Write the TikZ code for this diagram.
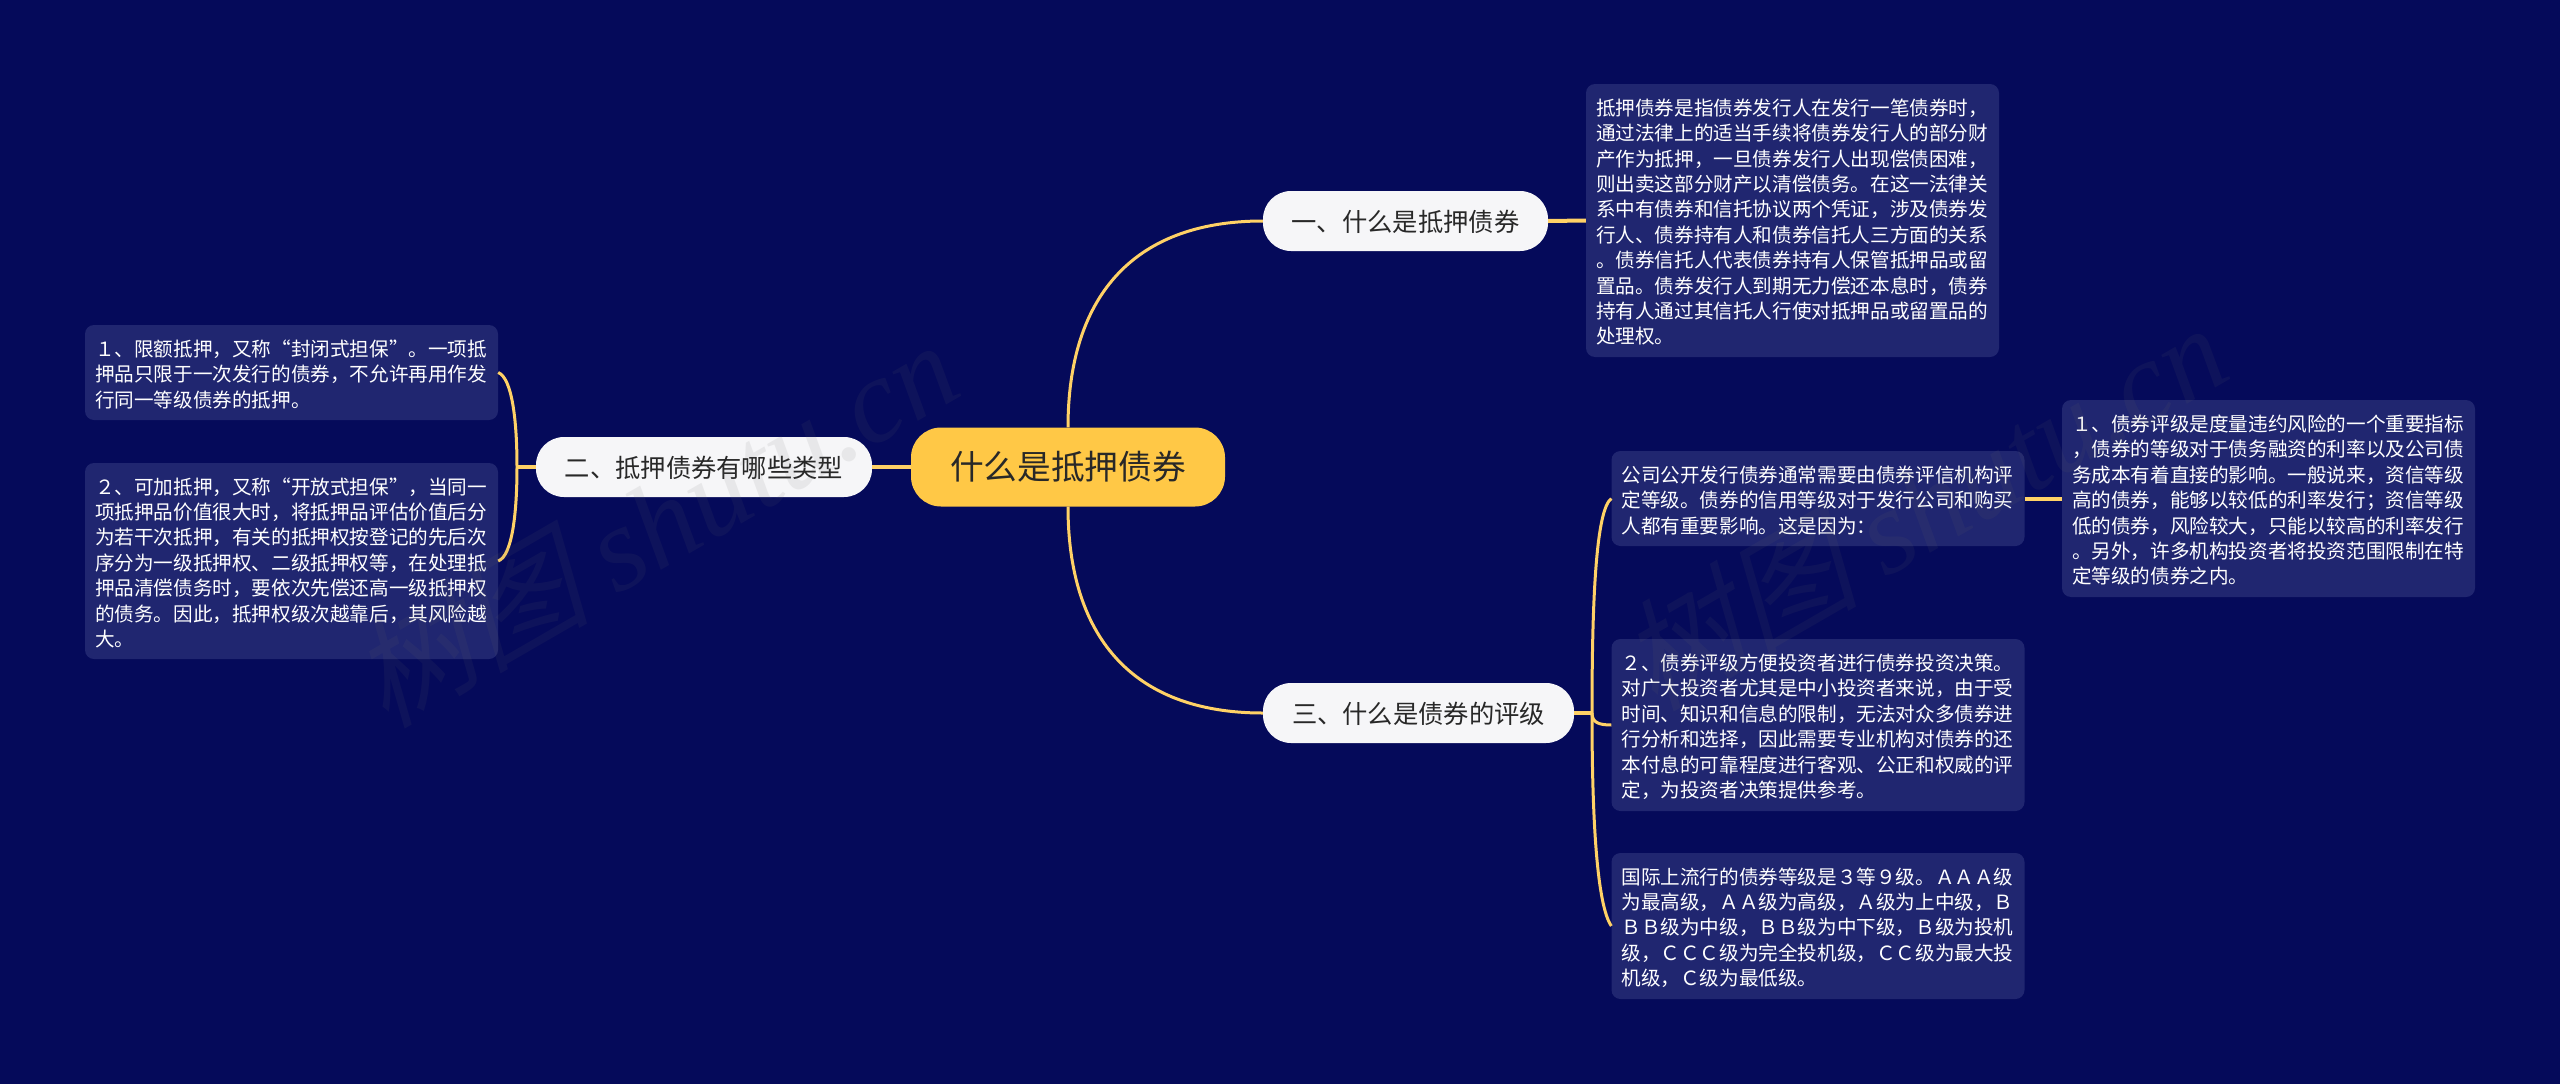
\documentclass[tikz,border=0pt]{standalone}
\usepackage{fontspec}
\setmainfont{Noto Sans CJK SC}
\newfontfamily\marklatin{Liberation Serif}
\newfontfamily\markcjk[FakeSlant=0.25]{Noto Sans CJK SC}
\definecolor{bgblue}{RGB}{5,10,90}
\definecolor{boxblue}{RGB}{32,38,112}
\definecolor{rootyellow}{RGB}{255,200,70}
\definecolor{linkyellow}{RGB}{255,209,102}
\definecolor{topicwhite}{RGB}{246,246,248}
\definecolor{inkgrey}{RGB}{40,40,40}
\tikzset{
  rootnode/.style={fill=rootyellow,text=inkgrey,rounded corners=30pt,minimum width=314pt,minimum height=79pt,inner sep=0pt,font=\fontsize{33.7}{40}\selectfont},
  topicnode/.style={fill=topicwhite,text=inkgrey,rounded corners=28pt,minimum height=60pt,inner sep=0pt,text depth=0pt,font=\fontsize{25.3}{30}\selectfont},
  textbox/.style={fill=boxblue,text=white,rounded corners=9pt,minimum width=413pt,inner sep=0pt,text width=393pt,align=left,font=\fontsize{19.6}{25.4}\selectfont,execute at begin node={\rule{0pt}{20pt}}},
  link/.style={draw=linkyellow,line width=3pt},
  stublink/.style={draw=linkyellow,line width=4pt},
  markstamp/.style={text=black!60,text opacity=0.1,rotate=30,inner sep=0pt,font=\fontsize{120}{130}\selectfont},
}
\begin{document}
\begin{tikzpicture}[x=1pt,y=-1pt]
\fill[bgblue] (0,0) rectangle (2560,1084);
\useasboundingbox (0,0) rectangle (2560,1084);
% connectors sit under the nodes
\coordinate (twoJoin) at (517,467);
\coordinate (threeJoin) at (1592,713);
% main and topic nodes
\node[rootnode] (root) at (1068,467) {什么是抵押债券};
\node[topicnode,minimum width=285pt] (one) at (1405.5,221) {一、什么是抵押债券};
\node[topicnode,minimum width=336pt] (two) at (704,467) {二、抵押债券有哪些类型};
\node[topicnode,minimum width=311pt] (three) at (1418.5,713) {三、什么是债券的评级};
% text boxes
\node[textbox,minimum height=273pt] (oneA) at (1792.5,220.5) {抵押债券是指债券发行人在发行一笔债券时，\\通过法律上的适当手续将债券发行人的部分财\\产作为抵押，一旦债券发行人出现偿债困难，\\则出卖这部分财产以清偿债务。在这一法律关\\系中有债券和信托协议两个凭证，涉及债券发\\行人、债券持有人和债券信托人三方面的关系\\。债券信托人代表债券持有人保管抵押品或留\\置品。债券发行人到期无力偿还本息时，债券\\持有人通过其信托人行使对抵押品或留置品的\\处理权。};
\node[textbox,minimum height=95pt] (twoA) at (291.5,372.5) {１、限额抵押，又称“封闭式担保”。一项抵\\押品只限于一次发行的债券，不允许再用作发\\行同一等级债券的抵押。};
\node[textbox,minimum height=196pt] (twoB) at (291.5,561) {２、可加抵押，又称“开放式担保”，当同一\\项抵押品价值很大时，将抵押品评估价值后分\\为若干次抵押，有关的抵押权按登记的先后次\\序分为一级抵押权、二级抵押权等，在处理抵\\押品清偿债务时，要依次先偿还高一级抵押权\\的债务。因此，抵押权级次越靠后，其风险越\\大。};
\node[textbox,minimum height=95pt] (threeA) at (1818,498.5) {公司公开发行债券通常需要由债券评信机构评\\定等级。债券的信用等级对于发行公司和购买\\人都有重要影响。这是因为：};
\node[textbox,minimum height=197pt] (threeAa) at (2268.5,498.5) {１、债券评级是度量违约风险的一个重要指标\\，债券的等级对于债务融资的利率以及公司债\\务成本有着直接的影响。一般说来，资信等级\\高的债券，能够以较低的利率发行；资信等级\\低的债券，风险较大，只能以较高的利率发行\\。另外，许多机构投资者将投资范围限制在特\\定等级的债券之内。};
\node[textbox,minimum height=172pt] (threeB) at (1818,725) {２、债券评级方便投资者进行债券投资决策。\\对广大投资者尤其是中小投资者来说，由于受\\时间、知识和信息的限制，无法对众多债券进\\行分析和选择，因此需要专业机构对债券的还\\本付息的可靠程度进行客观、公正和权威的评\\定，为投资者决策提供参考。};
\node[textbox,minimum height=146pt] (threeC) at (1818,926) {国际上流行的债券等级是３等９级。ＡＡＡ级\\为最高级，ＡＡ级为高级，Ａ级为上中级，Ｂ\\ＢＢ级为中级，ＢＢ级为中下级，Ｂ级为投机\\级，ＣＣＣ级为完全投机级，ＣＣ级为最大投\\机级，Ｃ级为最低级。};
% connectors
\draw[link] (root.north) .. controls (1068,300) and (1130,221) .. (one.west);
\draw[link] (root.south) .. controls (1068,634) and (1130,713) .. (three.west);
\draw[stublink] (root.west) -- (two.east);
\draw[stublink] (one.east) -- (oneA.west);
\draw[stublink] (threeA.east) -- (threeAa.west);
\draw[stublink] (two.west) -- (twoJoin);
\draw[link] (twoJoin) .. controls (517,420) and (512,378) .. (twoA.east);
\draw[link] (twoJoin) .. controls (517,514) and (512,556) .. (twoB.east);
\draw[stublink] (three.east) -- (threeJoin);
\draw[link] (threeJoin) .. controls (1592,600) and (1596,510) .. (threeA.west);
\draw[link] (threeJoin) .. controls (1592,722) and (1598,725) .. (threeB.west);
\draw[link] (threeJoin) .. controls (1592,820) and (1597,905) .. (threeC.west);
% faint stamps over everything
\node[markstamp] (markLeft) at (653,522) {\markcjk 树图 \marklatin\itshape shutu.cn};
\node[markstamp] (markRight) at (1922,505) {\markcjk 树图 \marklatin\itshape shutu.cn};
\end{tikzpicture}
\end{document}
